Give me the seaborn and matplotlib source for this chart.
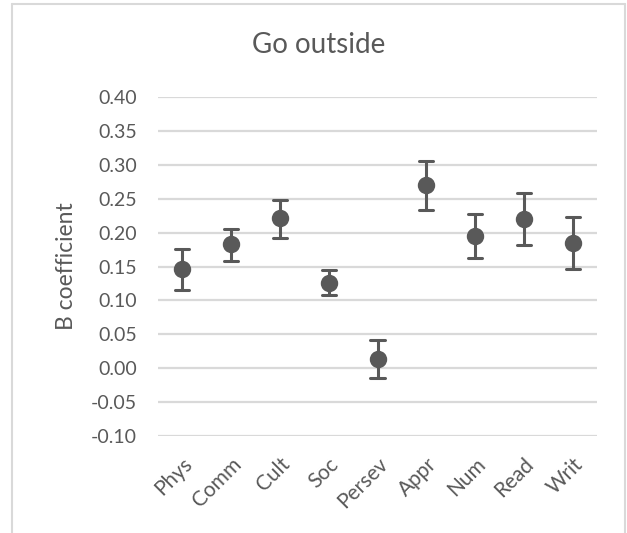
import matplotlib
matplotlib.use("Agg")
import matplotlib.pyplot as plt
from matplotlib.lines import Line2D
import numpy as np
import pandas as pd
import seaborn as sns

# Regression coefficients for "Go outside", with confidence limits
categories = ["Phys", "Comm", "Cult", "Soc", "Persev", "Appr", "Num", "Read", "Writ"]
coef = [0.146, 0.183, 0.221, 0.126, 0.014, 0.270, 0.195, 0.220, 0.185]
lower = [0.116, 0.158, 0.192, 0.108, -0.014, 0.233, 0.162, 0.181, 0.146]
upper = [0.176, 0.205, 0.248, 0.145, 0.041, 0.305, 0.227, 0.258, 0.223]
yticks = [-0.10, -0.05, 0.00, 0.05, 0.10, 0.15, 0.20, 0.25, 0.30, 0.35, 0.40]

# Long table: each category holds its lower limit, estimate and upper limit;
# the median gives the estimate and the full range gives the interval.
rows = []
for c, lo, b, hi in zip(categories, lower, coef, upper):
    for v in (lo, b, hi):
        rows.append({"category": c, "value": v})
df = pd.DataFrame(rows)

sns.set_theme(style="white")
plt.rcParams["font.family"] = ["Lato", "DejaVu Sans"]

TEXT = "#595959"
W, H = 627, 533
fig = plt.figure(figsize=(W / 100, H / 100), dpi=100)
ax = fig.add_axes([158 / W, 1 - 436 / H, (597 - 158) / W, (436 - 97) / H])

sns.pointplot(
    data=df, x="category", y="value", order=categories,
    estimator=np.median, errorbar=("pi", 100),
    color=TEXT, linestyle="none", markers="o",
    markersize=10.5, capsize=0.29,
    err_kws={"linewidth": 2.2}, ax=ax,
)

ax.set_ylim(-0.10, 0.40)
ax.set_xlim(-0.5, len(categories) - 0.5)
ax.set_yticks(yticks)
ax.set_yticklabels([f"{t:.2f}" for t in yticks])
ax.yaxis.grid(True, color="#d9d9d9", linewidth=1.6)
ax.set_axisbelow(True)
for s in ax.spines.values():
    s.set_visible(False)
ax.tick_params(axis="both", length=0, colors=TEXT)
ax.tick_params(axis="y", pad=15, labelsize=14)
ax.tick_params(axis="x", pad=13, labelsize=15)
plt.setp(ax.get_xticklabels(), rotation=45, ha="right", rotation_mode="anchor")

ax.set_xlabel("")
ax.set_ylabel("B coefficient", color=TEXT, fontsize=16.5, labelpad=10)
fig.text(319 / W, 1 - 45 / H, "Go outside", ha="center", va="center",
         color=TEXT, fontsize=20)

# Light chart-area frame
frame = dict(color="#d9d9d9", linewidth=1.5, transform=fig.transFigure)
fig.add_artist(Line2D([12 / W, 12 / W], [0, 1 - 4 / H], **frame))
fig.add_artist(Line2D([12 / W, 625 / W], [1 - 4 / H, 1 - 4 / H], **frame))
fig.add_artist(Line2D([625 / W, 625 / W], [0, 1 - 4 / H], **frame))

fig.savefig("out.png", dpi=100, facecolor="white")
